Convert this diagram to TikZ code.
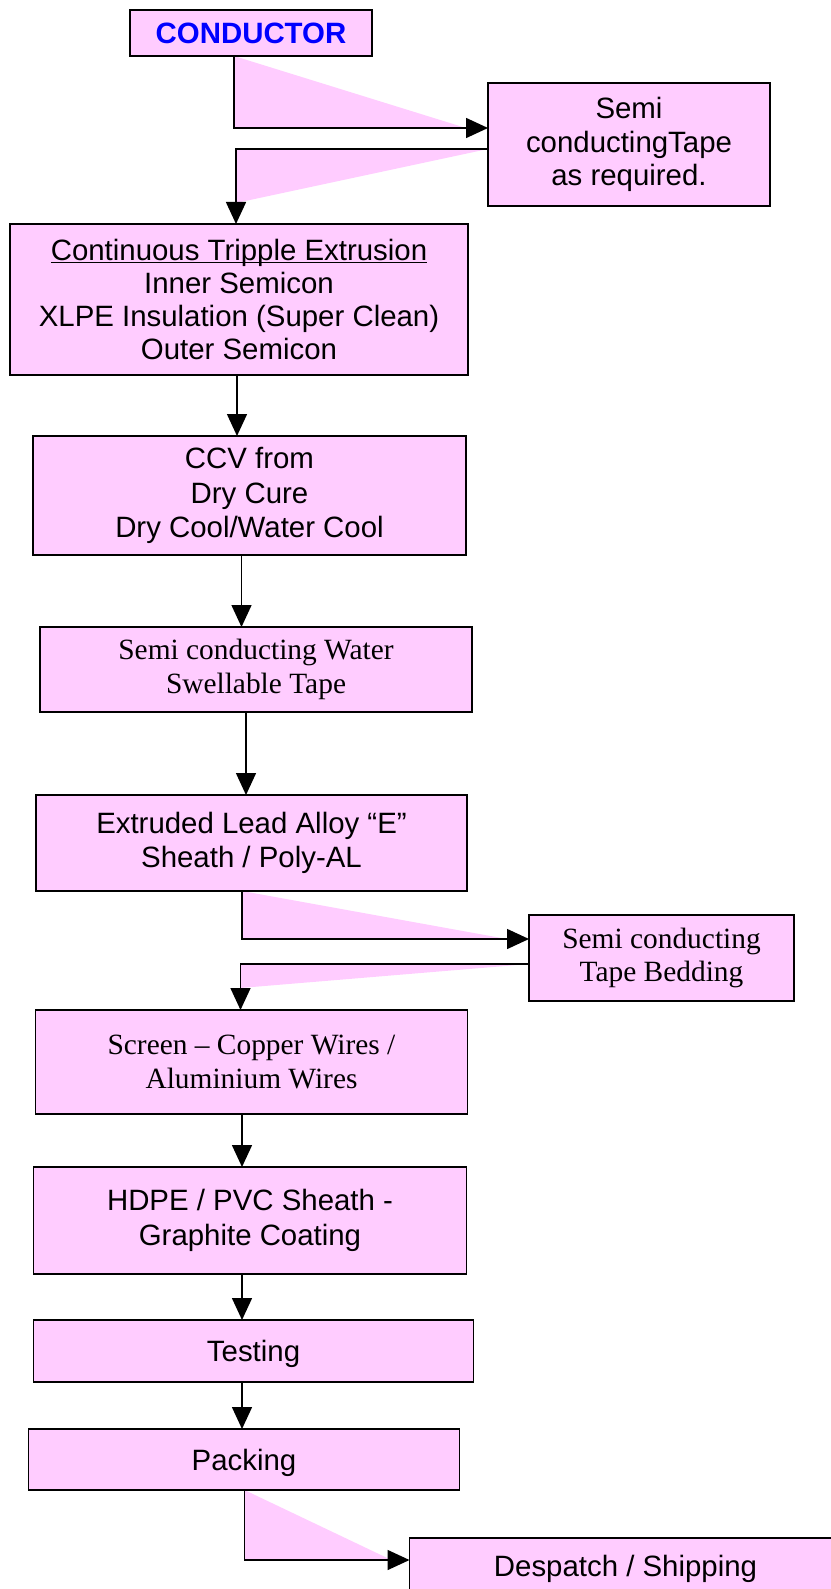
\documentclass[tikz,border=0pt]{standalone}
\usepackage{fontspec}
\setmainfont{Liberation Sans}
\newfontfamily\tnrfont{Liberation Serif}
\usepackage{tikz}
\usetikzlibrary{arrows.meta,positioning,calc,backgrounds}
\definecolor{boxpink}{RGB}{255,204,255}
\newcommand{\boxfont}{\fontsize{14.7pt}{17.2pt}\selectfont}
\newcommand{\ulbase}[1]{\setbox0\hbox{#1}\rlap{\rule[-1.4pt]{\wd0}{0.7pt}}\box0}

\begin{document}
\begin{tikzpicture}[
    >={Triangle[length=11pt,width=10pt]},
    box/.style={rectangle,draw=black,line width=0.75pt,fill=boxpink,outer sep=0pt,
                inner sep=0pt,align=center,font=\boxfont},
    serifbox/.style={box,font=\tnrfont\fontsize{14.7pt}{16.6pt}\selectfont},
    fl/.style={->,line width=0.75pt,black},
    tri/.style={fill=boxpink},
]
\useasboundingbox (0,0) rectangle (415pt,-794.5pt);

\node[box,minimum width=121pt,minimum height=23pt,text=blue,
      font=\boxfont\bfseries] (cond) at (125.5pt,-16.5pt) {CONDUCTOR};
\node[box,minimum width=141pt,minimum height=61.5pt,below=13.5pt of cond,xshift=189pt,
      font=\fontsize{14.7pt}{16.7pt}\selectfont] (tape) {Semi\\conductingTape\\as required.};
\node[box,minimum width=229pt,minimum height=75.5pt,below=84pt of cond,xshift=-6pt,
      font=\fontsize{14.7pt}{16.5pt}\selectfont] (ext)
  {\ulbase{Continuous Tripple Extrusion}\\Inner Semicon\\XLPE Insulation (Super Clean)\\Outer Semicon};
\node[box,minimum width=216.5pt,minimum height=59.5pt,below=30.5pt of ext,xshift=5.25pt] (ccv)
  {CCV from\\Dry Cure\\Dry Cool/Water Cool};
\node[serifbox,minimum width=216pt,minimum height=42.5pt,below=36pt of ccv,xshift=3.25pt] (swell)
  {Semi conducting Water\\Swellable Tape};
\node[box,minimum width=215.5pt,minimum height=48pt,below=41.5pt of swell,xshift=-2.25pt] (lead)
  {Extruded Lead Alloy “E”\\Sheath / Poly-AL};
\node[serifbox,minimum width=132.5pt,minimum height=43pt,below=12pt of lead,xshift=205pt] (bed)
  {Semi conducting\\Tape Bedding};
\node[serifbox,minimum width=216pt,minimum height=52pt,below=59.5pt of lead] (screen)
  {Screen – Copper Wires /\\Aluminium Wires};
\node[box,minimum width=216.5pt,minimum height=53.5pt,below=26.5pt of screen,xshift=-0.75pt] (hdpe)
  {HDPE / PVC Sheath -\\Graphite Coating};
\node[box,minimum width=220pt,minimum height=31pt,below=23pt of hdpe,xshift=1.75pt,
      text depth=0pt] (test) {Testing};
\node[box,minimum width=215.5pt,minimum height=30.5pt,below=23.5pt of test,xshift=-4.75pt,
      text depth=0pt] (pack) {Packing};
\node[box,minimum width=216pt,minimum height=30.5pt,below=24pt of pack,xshift=190.75pt] (desp)
  {Despatch / Shipping};

% ends of the bent connectors
\coordinate (condout) at ($(cond.south)+(-8.5pt,0)$);
\coordinate (tapein) at ($(tape.west)+(0,8.25pt)$);
\coordinate (tapeout) at ($(tape.west)+(0,-2.25pt)$);
\coordinate (extin) at ($(ext.north)+(-1.5pt,0)$);
\coordinate (leadout) at ($(lead.south)+(-4.75pt,0)$);
\coordinate (bedin) at ($(bed.west)+(0,9.5pt)$);
\coordinate (bedout) at ($(bed.west)+(0,-3pt)$);
\coordinate (screenin) at ($(screen.north)+(-5.5pt,0)$);
\coordinate (packout) at ($(pack.south)+(0.25pt,0)$);
\coordinate (despin) at ($(desp.west)+(0,4.25pt)$);

% pink wedges behind the bent connectors
\begin{scope}[on background layer]
  \fill[tri] (condout) -- (condout |- tapein) -- ($(tapein)+(-11pt,0)$) -- cycle;
  \fill[tri] (tapeout) -- (tapeout -| extin) -- ($(tapeout -| extin)+(0,-27pt)$) -- cycle;
  \fill[tri] (leadout) -- (leadout |- bedin) -- ($(bedin)+(-11pt,0)$) -- cycle;
  \fill[tri] (bedout) -- (bedout -| screenin) -- ($(bedout -| screenin)+(0,-12pt)$) -- cycle;
  \fill[tri] (packout) -- (packout |- despin) -- ($(despin)+(-9pt,0)$) -- cycle;
\end{scope}

\draw[fl] (condout) |- (tapein);
\draw[fl] (tapeout) -| (extin);
\draw[fl] ($(ext.south)+(-1pt,0)$) -- ($(ccv.north)+(-6.25pt,0)$);
\draw[fl] ($(ccv.south)+(-4pt,0)$) -- ($(swell.north)+(-7.25pt,0)$);
\draw[fl] ($(swell.south)+(-5pt,0)$) -- ($(lead.north)+(-2.75pt,0)$);
\draw[fl] (leadout) |- (bedin);
\draw[fl] (bedout) -| (screenin);
\draw[fl] ($(screen.south)+(-4.75pt,0)$) -- ($(hdpe.north)+(-4pt,0)$);
\draw[fl] ($(hdpe.south)+(-4pt,0)$) -- ($(test.north)+(-5.75pt,0)$);
\draw[fl] ($(test.south)+(-5.75pt,0)$) -- ($(pack.north)+(-1pt,0)$);
\draw[fl] (packout) |- (despin);

\end{tikzpicture}
\end{document}
